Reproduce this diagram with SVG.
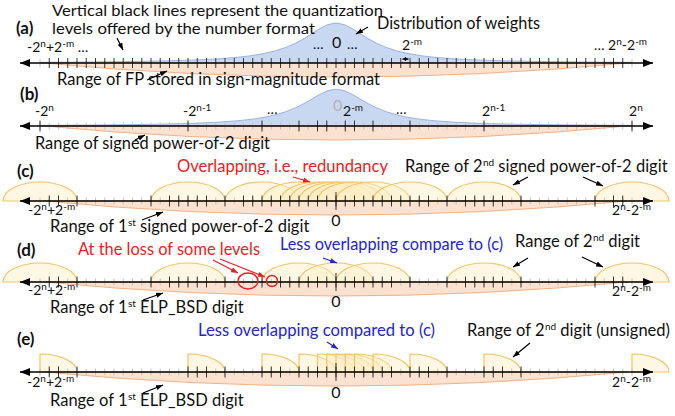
<svg xmlns="http://www.w3.org/2000/svg" width="675" height="416" viewBox="0 0 675 416">
<style>
text{font-family:Lato,"Liberation Sans",sans-serif;fill:#111}
.t{font-size:16.5px}
.b{font-size:17px;font-weight:bold}
.n{font-size:14px}
.s{font-size:10px}
.z{font-size:16px}
.red{fill:#e81e25}
.blue{fill:#2424d6}
.ax{stroke:#000;stroke-width:1.3;fill:none;marker-start:url(#ah);marker-end:url(#ah)}
.gt{stroke:#c4c4c4;stroke-width:7;stroke-dasharray:1 8.25;fill:none}
.bt{stroke:#333;stroke-width:1;fill:none}
.bd{stroke:#333;stroke-width:11;stroke-dasharray:1 8.25;fill:none}
.lens{fill:#fbe1cf;stroke:#f4b183;stroke-width:1}
.arc{fill:#fdedc4;fill-opacity:.45;stroke:#f3c462;stroke-width:1.2}
.bell{fill:#c9d8f1;stroke:#98b2df;stroke-width:1}
.ar{stroke:#000;stroke-width:1.2;fill:none;marker-end:url(#sa)}
.arR{stroke:#e81e25;stroke-width:1.2;fill:none;marker-end:url(#saR)}
.arB{stroke:#2424d6;stroke-width:1.2;fill:none;marker-end:url(#saB)}
.circ{fill:none;stroke:#e81e25;stroke-width:1.4}
</style>
<defs>
<marker id="ah" viewBox="0 0 10 8" refX="10" refY="4" markerWidth="10" markerHeight="8" markerUnits="userSpaceOnUse" orient="auto-start-reverse"><path d="M0 0L10 4L0 8z" fill="#000"/></marker>
<marker id="sa" viewBox="0 0 8 6" refX="8" refY="3" markerWidth="7" markerHeight="5.5" markerUnits="userSpaceOnUse" orient="auto"><path d="M0 0L8 3L0 6z" fill="#000"/></marker>
<marker id="saR" viewBox="0 0 8 6" refX="8" refY="3" markerWidth="7" markerHeight="5.5" markerUnits="userSpaceOnUse" orient="auto"><path d="M0 0L8 3L0 6z" fill="#e81e25"/></marker>
<marker id="saB" viewBox="0 0 8 6" refX="8" refY="3" markerWidth="7" markerHeight="5.5" markerUnits="userSpaceOnUse" orient="auto"><path d="M0 0L8 3L0 6z" fill="#2424d6"/></marker>
<marker id="tn" viewBox="0 0 4 4" refX="4" refY="2" markerWidth="3.5" markerHeight="3.5" markerUnits="userSpaceOnUse" orient="auto-start-reverse"><path d="M0 0L4 2L0 4z" fill="#000"/></marker>
<path id="bell" d="M40 0L40 -0.7L86 -1L126 -1.4L161 -2L191 -2.83L216 -4L236 -5.52L250 -7.11L264 -9.43L276 -12.31L286 -15.61L296 -20L304 -24.39L312 -29.41L320 -34.48L328 -38.46L336 -40L344 -38.46L352 -34.48L360 -29.41L368 -24.39L376 -20L386 -15.61L396 -12.31L408 -9.43L422 -7.11L436 -5.52L456 -4L481 -2.83L511 -2L546 -1.4L586 -1L632 -0.7L632 0Z"/>
<path id="lensp" d="M44 0Q336 28 628 0Z"/>
<path id="arcp" d="M-37 0A37 19 0 0 1 37 0Z"/>
<path id="qp" d="M0 0V-18A37 18 0 0 1 37 0Z"/>
<path id="gtp" d="M39.5 0H632.5"/>
<path id="axp" d="M20 0H653"/>
<path id="lt" d="M49.25-5.5v11M58.5-5.5v11M77-5.5v11M151-5.5v11M169.5-5.5v11M178.75-5.5v11M188-5.5v11M197.25-5.5v11M206.5-5.5v11M225-5.5v11"/>
<path id="rt" d="M447-5.5v11M465.5-5.5v11M474.75-5.5v11M484-5.5v11M493.25-5.5v11M502.5-5.5v11M521-5.5v11M595-5.5v11M613.5-5.5v11M622.75-5.5v11"/>
</defs>

<g id="panel-a" transform="translate(0,63)">
<use href="#bell" class="bell"/>
<use href="#lensp" class="lens"/>
<path d="M40 -4v8M632 -4v8" stroke="#c4c4c4" stroke-width="1"/>
<path d="M48.75 0H623.25" stroke="#3a3a3a" stroke-width="10" stroke-dasharray="1 8.25"/>
<use href="#axp" class="ax"/>
<path d="M402.5 -4H408.5" stroke="#000" stroke-width="1" marker-start="url(#tn)" marker-end="url(#tn)"/>
<text class="b" x="16" y="-29">(a)</text>
<text class="t" x="52" y="-47.5" textLength="331" lengthAdjust="spacingAndGlyphs" style="font-size:15.5px">Vertical black lines represent the quantization</text>
<text class="t" x="52" y="-29" textLength="263" lengthAdjust="spacingAndGlyphs" style="font-size:16px">levels offered by the number format</text>
<text class="t" x="377" y="-34" textLength="163" lengthAdjust="spacingAndGlyphs">Distribution of weights</text>
<text class="n" x="27" y="-11">-2<tspan class="s" dy="-5">n</tspan><tspan dy="5">+2</tspan><tspan class="s" dy="-5">-m</tspan><tspan dy="5"> …</tspan></text>
<text class="n" x="313" y="-14">…</text>
<text class="z" x="332" y="-15">0</text>
<text class="n" x="347" y="-14">…</text>
<text class="n" x="402" y="-13">2<tspan class="s" dy="-5">-m</tspan></text>
<text class="n" x="594" y="-13">… 2<tspan class="s" dy="-5">n</tspan><tspan dy="5">-2</tspan><tspan class="s" dy="-5">-m</tspan></text>
<text class="t" x="57" y="22" textLength="323" lengthAdjust="spacingAndGlyphs">Range of FP stored in sign-magnitude format</text>
</g>

<g id="panel-b" transform="translate(0,126)">
<use href="#bell" class="bell" transform="scale(1,0.92)"/>
<use href="#lensp" class="lens"/>
<use href="#gtp" class="gt"/>
<path class="bt" d="M40-5.5v11M188-5.5v11M262-5.5v11M299-5.5v11M317.5-5.5v11M326.75-5.5v11M345.25-5.5v11M354.5-5.5v11M373-5.5v11M410-5.5v11M484-5.5v11M632-5.5v11"/>
<use href="#axp" class="ax"/>
<text class="b" x="20" y="-26">(b)</text>
<text class="n" x="35" y="-10">-2<tspan class="s" dy="-5">n</tspan></text>
<text class="n" x="183" y="-10">-2<tspan class="s" dy="-5">n-1</tspan></text>
<text class="n" x="267" y="-12">…</text>
<text class="z" x="333" y="-15" style="fill:#b3b3b3">0</text>
<text class="n" x="343" y="-10">2<tspan class="s" dy="-5">-m</tspan></text>
<text class="n" x="396" y="-12">…</text>
<text class="n" x="482" y="-10">2<tspan class="s" dy="-5">n-1</tspan></text>
<text class="n" x="629" y="-10">2<tspan class="s" dy="-5">n</tspan></text>
<text class="t" x="35" y="23" textLength="235" lengthAdjust="spacingAndGlyphs">Range of signed power-of-2 digit</text>
</g>

<g id="panel-c" transform="translate(0,201)">
<use href="#lensp" class="lens"/>
<g id="arcs-c" class="arc">
<use href="#arcp" x="40"/><use href="#arcp" x="188"/><use href="#arcp" x="262"/><use href="#arcp" x="299"/><use href="#arcp" x="317.5"/><use href="#arcp" x="326.75"/><use href="#arcp" x="336"/><use href="#arcp" x="345.25"/><use href="#arcp" x="354.5"/><use href="#arcp" x="373"/><use href="#arcp" x="410"/><use href="#arcp" x="484"/><use href="#arcp" x="632"/>
</g>
<use href="#gtp" class="gt"/>
<use href="#lt" class="bt"/><use href="#rt" class="bt"/>
<path class="bd" d="M243 0H429"/>
<path class="bt" d="M336-9v18"/>
<use href="#axp" class="ax"/>
<text class="b" x="17" y="-24">(c)</text>
<text class="t red" x="177" y="-29" textLength="211" lengthAdjust="spacingAndGlyphs">Overlapping, i.e., redundancy</text>
<text class="t" x="405" y="-29">Range of 2<tspan class="s" dx="0.5" dy="-6">nd</tspan><tspan dy="6"> signed power-of-2 digit</tspan></text>
<text class="n" x="28" y="14">-2<tspan class="s" dy="-5">n</tspan><tspan dy="5">+2</tspan><tspan class="s" dy="-5">-m</tspan></text>
<text class="z" x="336" y="25" text-anchor="middle">0</text>
<text class="n" x="612" y="14">2<tspan class="s" dy="-5">n</tspan><tspan dy="5">-2</tspan><tspan class="s" dy="-5">-m</tspan></text>
<text class="t" x="50" y="31">Range of 1<tspan class="s" dx="0.5" dy="-6">st</tspan><tspan dy="6"> signed power-of-2 digit</tspan></text>
</g>

<g id="panel-d" transform="translate(0,282)">
<use href="#lensp" class="lens"/>
<g id="arcs-d" class="arc">
<use href="#arcp" x="40"/><use href="#arcp" x="188"/><use href="#arcp" x="299"/><use href="#arcp" x="336"/><use href="#arcp" x="373"/><use href="#arcp" x="484"/><use href="#arcp" x="632"/>
</g>
<use href="#gtp" class="gt"/>
<use href="#lt" class="bt"/><use href="#rt" class="bt"/>
<path class="bt" d="M262-5.5v11M410-5.5v11"/>
<path class="bd" d="M280 0H392"/>
<path class="bt" d="M336-9v18"/>
<use href="#axp" class="ax"/>
<ellipse id="loss-big" class="circ" cx="248" cy="-1" rx="10" ry="8"/>
<circle id="loss-small" class="circ" cx="272" cy="-1" r="5.5"/>
<text class="b" x="17" y="-26">(d)</text>
<text class="t red" x="78" y="-27" textLength="182" lengthAdjust="spacingAndGlyphs">At the loss of some levels</text>
<text class="t blue" x="280" y="-32" textLength="223" lengthAdjust="spacingAndGlyphs">Less overlapping compare to (c)</text>
<text class="t" x="515" y="-35">Range of 2<tspan class="s" dx="0.5" dy="-6">nd</tspan><tspan dy="6"> digit</tspan></text>
<text class="n" x="28" y="13">-2<tspan class="s" dy="-5">n</tspan><tspan dy="5">+2</tspan><tspan class="s" dy="-5">-m</tspan></text>
<text class="z" x="336" y="25" text-anchor="middle">0</text>
<text class="n" x="612" y="14">2<tspan class="s" dy="-5">n</tspan><tspan dy="5">-2</tspan><tspan class="s" dy="-5">-m</tspan></text>
<text class="t" x="50" y="31">Range of 1<tspan class="s" dx="0.5" dy="-6">st</tspan><tspan dy="6"> ELP_BSD digit</tspan></text>
</g>

<g id="panel-e" transform="translate(0,372)">
<use href="#lensp" class="lens"/>
<g id="arcs-e" class="arc">
<use href="#qp" x="40"/><use href="#qp" x="188"/><use href="#qp" x="262"/><use href="#qp" x="299"/><use href="#qp" x="317.5"/><use href="#qp" x="326.75"/><use href="#qp" x="336"/><use href="#qp" x="345.25"/><use href="#qp" x="354.5"/><use href="#qp" x="373"/><use href="#qp" x="410"/><use href="#qp" x="484"/><use href="#qp" x="632"/>
</g>
<use href="#gtp" class="gt"/>
<path class="bt" d="M49.25-5.5v11M58.5-5.5v11M77-5.5v11M188-5.5v11M197.25-5.5v11M206.5-5.5v11M225-5.5v11M262-5.5v11M271.25-5.5v11M280.5-5.5v11M410-5.5v11M419.25-5.5v11M428.5-5.5v11M447-5.5v11M484-5.5v11M493.25-5.5v11M502.5-5.5v11M521-5.5v11"/>
<path class="bd" d="M298.5 0H392"/>
<path class="bt" d="M336-9v18"/>
<use href="#axp" class="ax"/>
<text class="b" x="17" y="-27">(e)</text>
<text class="t blue" x="198" y="-36" textLength="237" lengthAdjust="spacingAndGlyphs">Less overlapping compared to (c)</text>
<text class="t" x="467" y="-36">Range of 2<tspan class="s" dx="0.5" dy="-6">nd</tspan><tspan dy="6"> digit (unsigned)</tspan></text>
<text class="n" x="27" y="15">-2<tspan class="s" dy="-5">n</tspan><tspan dy="5">+2</tspan><tspan class="s" dy="-5">-m</tspan></text>
<text class="z" x="336" y="26" text-anchor="middle">0</text>
<text class="n" x="612" y="15">2<tspan class="s" dy="-5">n</tspan><tspan dy="5">-2</tspan><tspan class="s" dy="-5">-m</tspan></text>
<text class="t" x="50" y="34">Range of 1<tspan class="s" dx="0.5" dy="-6">st</tspan><tspan dy="6"> ELP_BSD digit</tspan></text>
</g>

<g id="connectors">
<path class="ar" d="M117 38L123 50"/>
<path class="ar" d="M368 27L356 34"/>
<path class="ar" d="M147 80L167 71"/>
<path class="ar" d="M135 140L145 135"/>
<path class="arR" d="M293 177L310 182"/>
<path class="ar" d="M528 177L513 185"/>
<path class="ar" d="M583 177L603 186"/>
<path class="ar" d="M142 220L163 212"/>
<path class="arR" d="M213 260L238 273"/>
<path class="arR" d="M220 259L265 277"/>
<path class="arB" d="M323 258L337 263"/>
<path class="ar" d="M528 258L513 267"/>
<path class="ar" d="M582 257L603 267"/>
<path class="ar" d="M143 300L163 293"/>
<path class="arB" d="M327 342L338 349"/>
<path class="ar" d="M530 343L513 357"/>
<path class="ar" d="M143 393L163 385"/>
</g>
</svg>
